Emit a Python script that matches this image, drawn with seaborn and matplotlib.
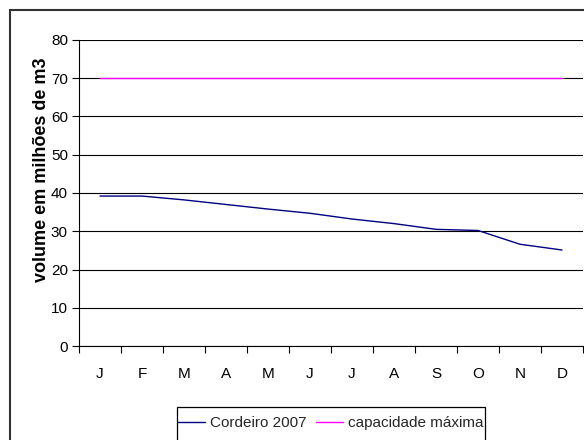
import numpy as np
import pandas as pd
import matplotlib
matplotlib.use("Agg")
import matplotlib.pyplot as plt
import seaborn as sns
from matplotlib.patches import Rectangle
from matplotlib.ticker import FixedLocator, NullFormatter, FixedFormatter

# Monthly reservoir volume (millions of m3)
meses = ["J", "F", "M", "A", "M", "J", "J", "A", "S", "O", "N", "D"]
cordeiro_2007 = [39.2, 39.2, 38.2, 37.0, 35.8, 34.7, 33.2, 32.0, 30.5, 30.2, 26.6, 25.1]
capacidade_maxima = [70, 70, 70, 70, 70, 70, 70, 70, 70, 70, 70, 70]
series = ["Cordeiro 2007", "capacidade máxima"]
cores = {"Cordeiro 2007": "#000080", "capacidade máxima": "#FF00FF"}

sns.set_theme(style="white")
plt.rcParams["font.family"] = ["Liberation Sans", "DejaVu Sans"]

W, H = 584, 440
fig = plt.figure(figsize=(W / 100, H / 100), dpi=100)
ax = fig.add_axes([79 / W, 1 - 346 / H, 504 / W, 306 / H])

pos = list(range(len(meses)))
df = pd.DataFrame({
    "pos": pos + pos,
    "volume": cordeiro_2007 + capacidade_maxima,
    "serie": [series[0]] * len(meses) + [series[1]] * len(meses),
})

sns.lineplot(data=df, x="pos", y="volume", hue="serie", hue_order=series,
             palette=cores, linewidth=1.0, ax=ax)

# axes limits and grid
ax.set_xlim(-0.5, len(meses) - 0.5)
ax.set_ylim(0, 80)
ax.set_yticks(range(0, 81, 10))
ax.set_axisbelow(True)
ax.yaxis.grid(True, color="black", linewidth=0.8)
ax.xaxis.grid(False)

# category ticks between months, labels centred on months
ax.xaxis.set_major_locator(FixedLocator(np.arange(-0.5, len(meses), 1)))
ax.xaxis.set_major_formatter(NullFormatter())
ax.xaxis.set_minor_locator(FixedLocator(pos))
ax.xaxis.set_minor_formatter(FixedFormatter(meses))
ax.tick_params(axis="x", which="major", direction="out", length=5, width=0.8,
               color="black", bottom=True)
ax.tick_params(axis="x", which="minor", length=0, pad=15, labelsize=11,
               labelcolor="black")
ax.tick_params(axis="y", direction="out", length=5, width=0.8, color="black",
               left=True, labelsize=11, pad=3, labelcolor="black")

for side in ["top", "right"]:
    ax.spines[side].set_visible(False)
for side in ["left", "bottom"]:
    ax.spines[side].set_color("black")
    ax.spines[side].set_linewidth(0.8)

ax.set_xlabel("")
ax.set_ylabel("volume em milhões de m3", fontsize=13, fontweight="bold",
              color="black")
ax.yaxis.set_label_coords((50 - 79) / 504, (346 - 170) / 306)

# legend below the plot
sns.move_legend(ax, loc="center", bbox_to_anchor=(331 / W, 1 - 423 / H),
                bbox_transform=fig.transFigure, ncol=2, frameon=False,
                title=None, fontsize=11, handlelength=1.75,
                handletextpad=0.35, columnspacing=0.6)
fig.add_artist(Rectangle((177 / W, -0.05), 308 / W, (1 - 407 / H) + 0.05,
                         transform=fig.transFigure, fill=False,
                         edgecolor="black", linewidth=0.9))

# chart border
fig.add_artist(Rectangle((10 / W, -0.1), 1.2, (1 - 10 / H) + 0.1,
                         transform=fig.transFigure, fill=False,
                         edgecolor="#333333", linewidth=1.5))

fig.savefig("out.png", dpi=100)
